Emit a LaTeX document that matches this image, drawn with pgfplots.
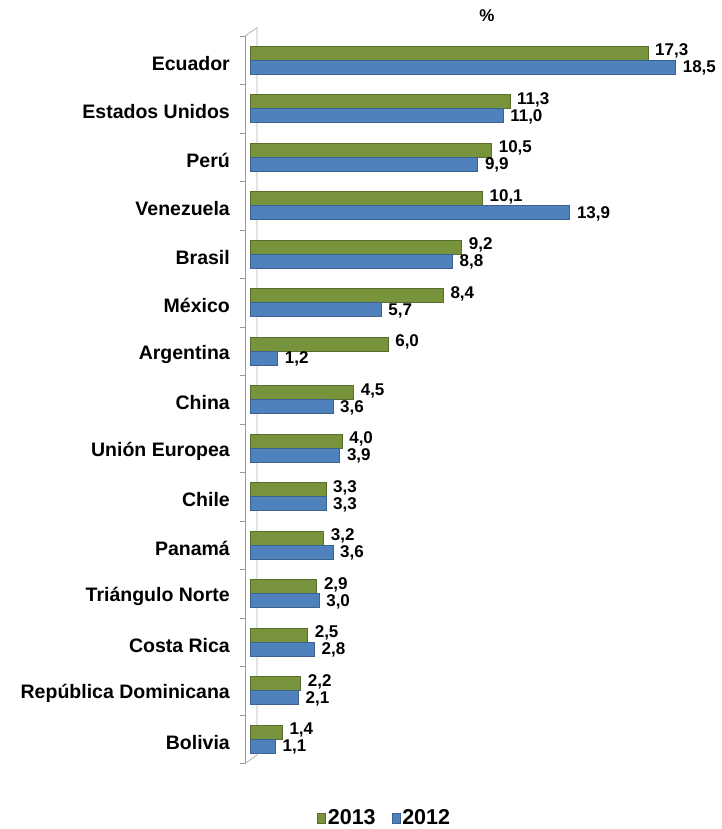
\documentclass[border=0pt]{standalone}
\usepackage{pgfplots}
\pgfplotsset{compat=1.18}
\usepackage{fontspec}
\setmainfont{Liberation Sans}
\definecolor{g13}{HTML}{77933C}
\definecolor{b12}{HTML}{4F81BD}
\begin{document}
\begin{tikzpicture}[x=1pt,y=1pt]
\path[use as bounding box] (0,0) rectangle (721,829);
\begin{axis}[
  at={(245pt,65.5pt)}, anchor=south west, scale only axis,
  width=453.5pt, height=727.5pt,
  xmin=-0.2174, xmax=19.5, ymin=-0.5, ymax=14.5, y dir=reverse,
  axis x line=none, axis y line*=left,
  y axis line style={draw=gray!80, line width=0.8pt},
  clip=false,
  xbar, bar width=14pt,
  ytick={0,...,14},
  yticklabels={Ecuador,Estados Unidos,Perú,Venezuela,Brasil,México,Argentina,China,Unión Europea,Chile,Panamá,Triángulo Norte,Costa Rica,República Dominicana,Bolivia},
  major tick length=0pt,
  extra y ticks={-0.5,0.5,...,14.5},
  extra y tick labels={},
  extra y tick style={major tick length=5pt, tick align=outside, tick style={draw=gray!80, line width=0.8pt}},
  yticklabel style={font=\fontsize{19.5}{22}\selectfont\bfseries, anchor=east, inner sep=0pt, xshift=-15pt, yshift=-3pt},
  /pgf/number format/.cd, fixed, fixed zerofill, precision=1, use comma, assume math mode=true,
  /pgfplots/.cd,
  legend style={at={(0.308,-0.075)}, anchor=center, legend columns=2, draw=none, fill=none,
     font=\fontsize{21.5}{24}\selectfont\bfseries, /tikz/every even column/.append style={column sep=14pt}},
  legend image code/.code={\fill[#1] (0pt,-5pt) rectangle (8pt,5pt);},
]
\addplot[sharp plot, forget plot, draw=gray!60, line width=0.8pt] coordinates {(-0.2174,14.5) (0.3,14.33) (0.3,-0.67) (-0.2174,-0.5)};
\addplot[fill=g13, draw=g13!75!black, line width=0.6pt, bar shift=7pt, nodes near coords,
  nodes near coords style={font=\fontsize{17}{20}\selectfont\bfseries, text=black, anchor=west, inner sep=0pt, xshift=7pt, yshift=2pt}] coordinates {
(17.3,0) (11.3,1) (10.5,2) (10.1,3) (9.2,4) (8.4,5) (6.0,6) (4.5,7) (4.0,8) (3.3,9) (3.2,10) (2.9,11) (2.5,12) (2.2,13) (1.4,14)};
\addlegendentry{2013}
\addplot[fill=b12, draw=b12!75!black, line width=0.6pt, bar shift=-7pt, nodes near coords,
  nodes near coords style={font=\fontsize{17}{20}\selectfont\bfseries, text=black, anchor=west, inner sep=0pt, xshift=7pt, yshift=-1pt}] coordinates {
(18.5,0) (11.0,1) (9.9,2) (13.9,3) (8.8,4) (5.7,5) (1.2,6) (3.6,7) (3.9,8) (3.3,9) (3.6,10) (3.0,11) (2.8,12) (2.1,13) (1.1,14)};
\addlegendentry{2012}
\end{axis}
\node[font=\fontsize{17}{20}\selectfont\bfseries] at (487,813) {\%};
\end{tikzpicture}
\end{document}
